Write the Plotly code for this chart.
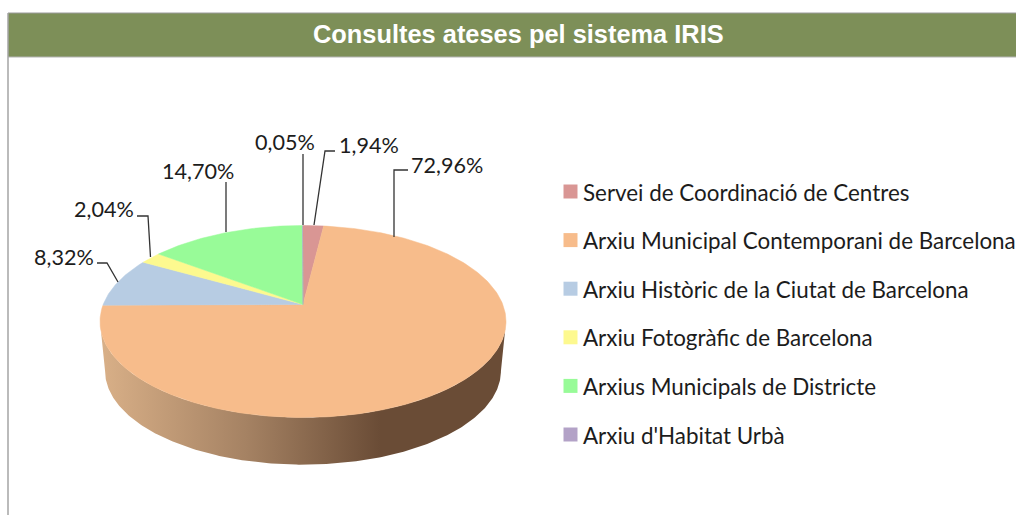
import numpy as np
import plotly.graph_objects as go

categories = ["Servei de Coordinació de Centres", "Arxiu Municipal Contemporani de Barcelona",
              "Arxiu Històric de la Ciutat de Barcelona", "Arxiu Fotogràfic de Barcelona",
              "Arxius Municipals de Districte", "Arxiu d'Habitat Urbà"]
values = [1.94, 72.96, 8.32, 2.04, 14.70, 0.05]
colors = ["#D99694", "#F7BC8B", "#B7CCE3", "#FDF98F", "#98FB98", "#B3A2C7"]

W, H = 1016, 515
CX, CY = 303.0, 304.5
A, B, K = 199.8, 93.0, 0.177
DEPTH_SCALE, DEPTH_CY = 0.975, 354.5
FONT = "Lato"

def project(theta, scale=1.0, cy=CY):
    """Clockwise angle from 12 o'clock -> perspective ellipse position."""
    u, v = np.sin(theta), np.cos(theta)
    d = 1 + K * v
    return CX + scale * A * u / d, cy - scale * B * v / d

fig = go.Figure()

# side wall (front half between the top rim and the lower rim)
t_left = 2 * np.pi - np.arccos(-K)
t_right = np.arccos(-K)
t = np.linspace(t_right, t_left, 240)
x1, y1 = project(t)
x2, y2 = project(t[::-1], DEPTH_SCALE, DEPTH_CY)
fig.add_trace(go.Scatter(
    x=np.r_[x1, x2], y=np.r_[y1, y2], mode="lines", fill="toself",
    line=dict(width=0), hoverinfo="skip", showlegend=False,
    fillgradient=dict(type="horizontal",
                      colorscale=[[0, "#D9B088"], [0.36, "#A58263"], [0.69, "#6A4C36"], [1, "#6A4C36"]]),
))

# top face sectors
fractions = np.array(values) / sum(values)
edges = np.r_[0, np.cumsum(fractions)] * 2 * np.pi
for i, (name, col) in enumerate(zip(categories, colors)):
    n = max(3, int(fractions[i] * 400))
    th = np.linspace(edges[i], edges[i + 1], n)
    px, py = project(th)
    fig.add_trace(go.Scatter(
        x=np.r_[CX, px, CX], y=np.r_[CY, py, CY], mode="lines", fill="toself",
        fillcolor=col, line=dict(width=0.5, color=col), name=name,
        hovertemplate=f"{name}: {values[i]:.2f}%<extra></extra>", showlegend=False,
    ))

# legend
LEG_X, LEG_Y0, LEG_DY = 570.5, 191.5, 48.6
leg_y = [LEG_Y0 + LEG_DY * i for i in range(len(categories))]
fig.add_trace(go.Scatter(
    x=[LEG_X] * len(categories), y=leg_y, mode="markers",
    marker=dict(symbol="square", size=14, color=colors, line=dict(width=0)),
    hoverinfo="skip", showlegend=False,
))

annotations = []
for name, y in zip(categories, leg_y):
    annotations.append(dict(x=580.5, y=y + 0.5, text=name, xref="x", yref="y", xanchor="left", yanchor="middle",
                            showarrow=False, font=dict(family=FONT, size=22.4, color="#1c1c1c")))

# value labels, same order as the values: centre of each label
label_pos = [(369, 145), (447, 165), (64, 257), (104, 209), (198, 171), (285, 142)]
for v, (lx, ly) in zip(values, label_pos):
    annotations.append(dict(x=lx, y=ly, text=f"{v:.2f}%".replace(".", ","), xref="x", yref="y",
                            xanchor="center", yanchor="middle", showarrow=False,
                            font=dict(family=FONT, size=21.6, color="#1c1c1c")))

annotations.append(dict(x=518.5, y=33.5, xref="x", yref="y", text="<b>Consultes ateses pel sistema IRIS</b>",
                        xanchor="center", yanchor="middle", showarrow=False,
                        font=dict(family="Liberation Sans", size=25.4, color="white")))

# leader lines
leaders = [
    [(314, 225), (325, 151), (335, 151)],
    [(394, 237), (394, 170), (408, 170)],
    [(118, 282), (107, 263), (97, 263)],
    [(150.5, 257), (148, 216), (137, 216)],
    [(226, 232), (226, 182)],
    [(303, 225), (303, 154)],
]
shapes = [
    dict(type="rect", xref="x", yref="y", x0=8, x1=1016, y0=13, y1=57, fillcolor="#7D8F58",
         line=dict(width=0), layer="below"),
    dict(type="line", xref="x", yref="y", x0=8, x1=1016, y0=13, y1=13, line=dict(color="#9a9a9a", width=1)),
    dict(type="line", xref="x", yref="y", x0=8, x1=1016, y0=57, y1=57, line=dict(color="#b4b4b4", width=1)),
    dict(type="line", xref="x", yref="y", x0=8, x1=8, y0=13, y1=515, line=dict(color="#a5a5a5", width=1.5)),
]
for pts in leaders:
    path = "M" + " L".join(f"{a},{b}" for a, b in pts)
    shapes.append(dict(type="path", xref="x", yref="y", path=path, line=dict(color="#333333", width=1.3)))

fig.update_layout(
    width=W, height=H, margin=dict(l=0, r=0, t=0, b=0),
    paper_bgcolor="white", plot_bgcolor="white", showlegend=False,
    xaxis=dict(range=[0, W], visible=False, fixedrange=True),
    yaxis=dict(range=[H, 0], visible=False, fixedrange=True),
    shapes=shapes, annotations=annotations,
)

fig.write_html("out.html", config={"displayModeBar": False},
               post_script="document.body.style.margin='0';document.body.style.overflow='hidden';")
